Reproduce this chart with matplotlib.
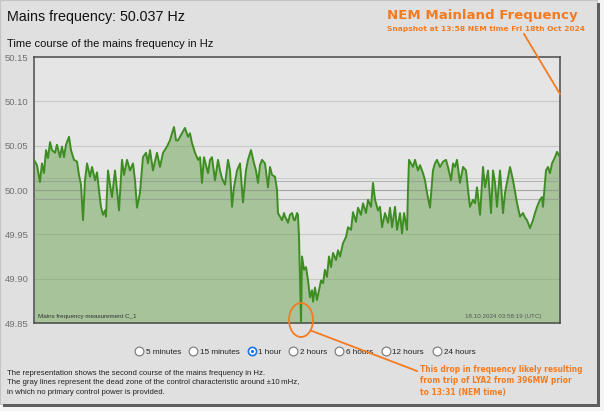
"""
Mains frequency snapshot (NEM Mainland), 1 hour of data around the LYA2 trip
"""
import numpy as np
import matplotlib.pyplot as plt
from matplotlib.patches import Ellipse, Rectangle

### Data (minutes since start of the 1 hour window, Hz)
minutes = [0.0, 0.34, 0.68, 0.91, 1.14, 1.37, 1.60, 1.83, 2.05, 2.40, 2.62, 2.97, 3.19, 3.42, 3.65,
           3.99, 4.22, 4.56, 4.91, 5.13, 5.36, 5.59, 5.82, 6.05, 6.39, 6.62, 6.96, 7.19, 7.41, 7.64,
           7.87, 8.10, 8.21, 8.44, 8.67, 8.90, 9.24, 9.47, 9.70, 10.04, 10.27, 10.61, 10.95, 11.29,
           11.52, 11.75, 12.09, 12.43, 12.78, 13.00, 13.23, 13.57, 14.03, 14.37, 14.72, 15.17, 15.51,
           15.74, 15.97, 16.20, 16.43, 16.65, 16.88, 17.22, 17.57, 17.79, 18.02, 18.37, 18.71, 18.94,
           19.16, 19.39, 19.62, 19.85, 20.08, 20.30, 20.65, 20.99, 21.22, 21.45, 21.79, 22.13, 22.36,
           22.59, 22.81, 23.16, 23.50, 23.84, 24.18, 24.41, 24.75, 25.10, 25.32, 25.55, 25.78, 26.01,
           26.35, 26.69, 26.92, 27.15, 27.49, 27.72, 27.83, 28.06, 28.29, 28.52, 28.63, 28.86, 28.97,
           29.20, 29.43, 29.66, 29.77, 30.00, 30.11, 30.23, 30.46, 30.57, 30.80, 31.03, 31.26, 31.48,
           31.71, 31.83, 32.05, 32.28, 32.51, 32.74, 32.97, 33.19, 33.42, 33.65, 33.88, 34.11, 34.45,
           34.68, 34.91, 35.25, 35.59, 35.82, 36.16, 36.39, 36.73, 36.96, 37.30, 37.53, 37.87, 38.10,
           38.44, 38.67, 38.90, 39.24, 39.47, 39.70, 40.04, 40.38, 40.61, 40.84, 41.18, 41.41, 41.75,
           41.98, 42.21, 42.55, 42.66, 42.78, 43.00, 43.23, 43.46, 43.80, 44.03, 44.37, 44.60, 44.83,
           45.17, 45.51, 45.74, 45.97, 46.31, 46.66, 47.00, 47.22, 47.57, 47.80, 48.02, 48.25, 48.59,
           48.94, 49.28, 49.51, 49.73, 50.08, 50.31, 50.53, 50.88, 51.22, 51.45, 51.79, 52.13, 52.36,
           52.59, 52.81, 53.16, 53.50, 53.73, 53.95, 54.30, 54.64, 55.10, 55.44, 55.78, 56.01, 56.24,
           56.58, 56.92, 57.15, 57.38, 57.72, 57.95, 58.06, 58.40, 58.63, 58.86, 59.09, 59.43, 59.66,
           60.0]
freq_hz = [50.034, 50.028, 50.009, 50.030, 50.019, 50.045, 50.036, 50.054, 50.045, 50.042, 50.051,
           50.037, 50.049, 50.037, 50.051, 50.060, 50.045, 50.034, 50.032, 50.017, 50.006, 49.966,
           50.011, 50.030, 50.015, 50.026, 50.011, 50.020, 50.000, 49.981, 49.972, 49.977, 49.970,
           50.022, 50.006, 49.992, 50.022, 50.000, 49.977, 50.034, 50.017, 50.034, 50.022, 50.030,
           50.011, 49.980, 49.997, 50.037, 50.042, 50.030, 50.045, 50.022, 50.042, 50.026, 50.042,
           50.049, 50.056, 50.064, 50.071, 50.056, 50.056, 50.060, 50.064, 50.070, 50.060, 50.064,
           50.053, 50.042, 50.034, 50.037, 50.008, 50.037, 50.028, 50.019, 50.034, 50.037, 50.011,
           50.034, 50.022, 50.013, 50.006, 50.034, 50.022, 49.981, 50.003, 50.022, 50.030, 49.986,
           50.022, 50.034, 50.045, 50.030, 50.022, 50.008, 50.028, 50.034, 50.030, 50.003, 50.026,
           50.017, 50.015, 50.000, 49.974, 49.970, 49.966, 49.974, 49.970, 49.966, 49.963, 49.972,
           49.974, 49.966, 49.966, 49.974, 49.972, 49.947, 49.850, 49.925, 49.910, 49.913, 49.898,
           49.879, 49.887, 49.874, 49.890, 49.876, 49.887, 49.898, 49.895, 49.910, 49.902, 49.925,
           49.913, 49.929, 49.921, 49.932, 49.925, 49.940, 49.947, 49.958, 49.955, 49.975, 49.964,
           49.980, 49.972, 49.985, 49.974, 49.989, 49.981, 50.008, 49.989, 49.977, 49.981, 49.958,
           49.974, 49.963, 49.980, 49.958, 49.981, 49.955, 49.974, 49.951, 49.974, 49.955, 50.000,
           50.034, 50.030, 50.026, 50.034, 50.022, 50.028, 50.019, 50.011, 49.997, 49.980, 50.022,
           50.030, 50.034, 50.026, 50.032, 50.034, 50.026, 50.011, 50.030, 50.026, 50.034, 50.008,
           50.026, 50.022, 50.000, 49.981, 49.989, 49.985, 50.003, 49.972, 50.026, 50.003, 50.022,
           49.974, 50.022, 50.008, 49.981, 50.022, 49.974, 49.997, 50.008, 50.026, 50.011, 49.985,
           49.970, 49.974, 49.969, 49.966, 49.957, 49.966, 49.974, 49.981, 49.989, 49.992, 49.981,
           50.022, 50.026, 50.019, 50.030, 50.037, 50.043, 50.037]

yticks = [49.85, 49.90, 49.95, 50.00, 50.05, 50.10, 50.15]
dead_zone = [49.99, 50.00, 50.01]
ranges = ['5 minutes', '15 minutes', '1 hour', '2 hours', '6 hours', '12 hours', '24 hours']
selected = '1 hour'

def main():
    W, H = 604, 411
    fig = plt.figure(figsize=(W/100, H/100), dpi=100)
    fig.patch.set_facecolor('#f4f4f4')

    ### background overlay in pixel units
    bg = fig.add_axes([0, 0, 1, 1], zorder=0)
    bg.set_xlim(0, W); bg.set_ylim(H, 0); bg.axis('off')
    bg.add_patch(Rectangle((0, 0), 597, 404, fc='#e0e0e0', ec='#c4c4c4', lw=0.8))
    bg.add_patch(Rectangle((597, 3), 3, 404, fc='#5e5e5e', lw=0))
    bg.add_patch(Rectangle((3, 404), 597, 3, fc='#5e5e5e', lw=0))

    tfont = 'Liberation Sans'
    bg.text(7, 17, 'Mains frequency: 50.037 Hz', fontsize=10.3, family=tfont, va='center', color='#111')
    bg.text(7, 44, 'Time course of the mains frequency in Hz', fontsize=8, family=tfont,
            va='center', color='#111')

    ## radio buttons
    xr = [139, 193, 252, 293, 339, 386, 437]
    for x, lab in zip(xr, ranges):
        if lab == selected:
            bg.scatter([x], [351], s=40, fc='#1a73e8', ec='#1a73e8', lw=0.8, zorder=3)
            bg.scatter([x], [351], s=12, fc='#1a73e8', ec='white', lw=1.2, zorder=4)
        else:
            bg.scatter([x], [351], s=40, fc='white', ec='#777777', lw=0.8, zorder=3)
        bg.text(x + 6.5, 352, lab, fontsize=5.9, family=tfont, va='center', color='#222')

    notes = ['The representation shows the second course of the mains frequency in Hz.',
             'The gray lines represent the dead zone of the control characteristic around \u00b110\u2009mHz,',
             'in which no primary control power is provided.']
    for i, s in enumerate(notes):
        bg.text(7, 373 + i*9.7, s, fontsize=5.6, family=['Liberation Sans', 'DejaVu Sans'],
                va='center', color='#222')

    ### frequency plot
    ax = fig.add_axes([34/W, 1-323/H, 526/W, 266/H], zorder=1)
    ax.set_facecolor('#e5e5e5')
    for y in yticks[1:-1]:
        ax.axhline(y, color='#c9c9c9', lw=0.8, zorder=1)
    ax.fill_between(minutes, freq_hz, 49.85, color='#5a9b40', alpha=0.45, lw=0, zorder=2)
    for y in dead_zone:
        ax.axhline(y, color='#8e8e8e', lw=0.8, alpha=0.55, zorder=3)
    ax.axhline(50.013, color='#8e8e8e', lw=0.6, alpha=0.35, zorder=3)
    ax.plot(minutes, freq_hz, color='#3e8d23', lw=1.4, zorder=4)

    ax.set_xlim(0, 60)
    ax.set_ylim(49.85, 50.15)
    ax.set_xticks([])
    ax.set_yticks(yticks)
    ax.set_yticklabels(['{:.2f}'.format(v) for v in yticks])
    ax.tick_params(axis='y', length=0, pad=4, labelsize=6.8, labelcolor='#707070')
    for lab in ax.get_yticklabels():
        lab.set_family(tfont)
    for sp in ax.spines.values():
        sp.set_color('#4a4a4a'); sp.set_linewidth(1.1)

    ax.text(0.008, 0.018, 'Mains frequency measurement C_1', transform=ax.transAxes,
            fontsize=4.5, family=tfont, color='#333', zorder=6)
    ax.text(0.965, 0.018, '18.10.2024 03:58:19 (UTC)', transform=ax.transAxes, ha='right',
            fontsize=4.5, family=tfont, color='#555', zorder=6)

    ### orange annotations on top
    an = fig.add_axes([0, 0, 1, 1], zorder=5)
    an.set_xlim(0, W); an.set_ylim(H, 0); an.axis('off'); an.patch.set_alpha(0)
    orange = '#f47b20'
    afont = 'DejaVu Sans'
    an.text(387, 15, 'NEM Mainland Frequency', fontsize=9.6, weight='bold', family=afont,
            color=orange, va='center')
    an.text(387, 29, 'Snapshot at 13:58 NEM time Fri 18th Oct 2024', fontsize=5.4, weight='bold',
            family=afont, color=orange, va='center')
    an.plot([524, 560], [34, 94], color=orange, lw=1.3)
    an.add_patch(Ellipse((301, 320), 24, 34, fill=False, ec=orange, lw=1.3))
    an.plot([312, 417], [331, 371], color=orange, lw=1.3)
    drop_note = ['This drop in frequency likely resulting',
                 'from trip of LYA2 from 396MW prior',
                 'to 13:31 (NEM time)']
    for i, s in enumerate(drop_note):
        an.text(420, 369 + i*11.5, s, fontsize=5.45, weight='bold', family=afont,
                color=orange, va='center')

    fig.savefig('out.png', dpi=100, facecolor=fig.get_facecolor())
    return

if __name__ == '__main__':
    main()
